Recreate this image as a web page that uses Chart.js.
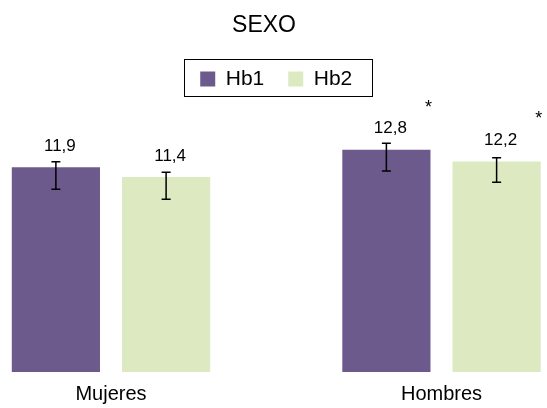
<!DOCTYPE html>
<html>
<head>
<meta charset="utf-8">
<script src="https://cdn.jsdelivr.net/npm/chart.js@4"></script>
<style>
  body { margin: 0; background: #fff; }
</style>
</head>
<body>
<canvas id="hbChart" width="547" height="408"></canvas>
<script>
const categories = ["Mujeres", "Hombres"];
const hb1 = [11.9, 12.8];
const hb2 = [11.4, 12.2];
// error bar extent above / below each value
const hb1Plus = [0.28, 0.33];
const hb1Minus = [1.13, 1.09];
const hb2Plus = [0.24, 0.19];
const hb2Minus = [1.14, 1.07];
const signif = ["", "*"];
const yMin = 1.4;
const yMax = 15.37;

Chart.defaults.color = "#000";
Chart.defaults.font.family = "'Liberation Sans', Arial, sans-serif";

const fmt = v => v.toFixed(1).replace(".", ",");

const barExtras = {
  id: "barExtras",
  afterDatasetsDraw(chart) {
    const ctx = chart.ctx;
    const y = chart.scales.y;
    ctx.save();
    chart.data.datasets.forEach((ds, di) => {
      const meta = chart.getDatasetMeta(di);
      meta.data.forEach((bar, i) => {
        const v = ds.data[i];
        // error bar
        const top = y.getPixelForValue(v + ds.errPlus[i]);
        const bot = y.getPixelForValue(v - ds.errMinus[i]);
        ctx.strokeStyle = "#000";
        ctx.lineWidth = 1.5;
        ctx.beginPath();
        ctx.moveTo(bar.x, top);
        ctx.lineTo(bar.x, bot);
        ctx.moveTo(bar.x - 4.5, top);
        ctx.lineTo(bar.x + 4.5, top);
        ctx.moveTo(bar.x - 4.5, bot);
        ctx.lineTo(bar.x + 4.5, bot);
        ctx.stroke();
        // value label
        ctx.fillStyle = "#000";
        ctx.textAlign = "center";
        ctx.textBaseline = "middle";
        ctx.font = "17px 'Liberation Sans', Arial, sans-serif";
        ctx.fillText(fmt(v), bar.x + 4, bar.y - 21);
        if (signif[i]) {
          ctx.font = "18px 'Liberation Sans', Arial, sans-serif";
          ctx.fillText(signif[i], bar.x + bar.width / 2 - 2, bar.y - 42);
        }
      });
    });
    ctx.restore();
  },
  afterDraw(chart) {
    // frame around the legend
    const lg = chart.legend;
    if (!lg || !lg.legendHitBoxes.length) return;
    const boxes = lg.legendHitBoxes;
    const left = Math.min(...boxes.map(b => b.left));
    const right = Math.max(...boxes.map(b => b.left + b.width));
    const mid = boxes[0].top + boxes[0].height / 2;
    const ctx = chart.ctx;
    ctx.save();
    ctx.strokeStyle = "#000";
    ctx.lineWidth = 1;
    ctx.strokeRect(Math.round(left - 16) + 0.5, Math.round(mid - 20) + 0.5, Math.round(right - left + 36), 37);
    ctx.restore();
  }
};

new Chart(document.getElementById("hbChart"), {
  type: "bar",
  data: {
    labels: categories,
    datasets: [
      { label: "Hb1", data: hb1, errPlus: hb1Plus, errMinus: hb1Minus, backgroundColor: "#6c5a8d", borderWidth: 0, base: yMin, clip: false },
      { label: "Hb2", data: hb2, errPlus: hb2Plus, errMinus: hb2Minus, backgroundColor: "#dce9c1", borderWidth: 0, base: yMin, clip: false }
    ]
  },
  options: {
    responsive: false,
    animation: false,
    categoryPercentage: 0.667,
    barPercentage: 0.8,
    layout: { padding: { left: 0, right: 19, top: 0, bottom: 0 } },
    plugins: {
      title: {
        display: true,
        text: "SEXO",
        font: { size: 23, weight: "normal" },
        padding: { top: 12, bottom: 5 }
      },
      legend: {
        fullSize: false,
        labels: { boxWidth: 15, boxHeight: 15, padding: 24, font: { size: 21 } }
      },
      tooltip: { enabled: false }
    },
    scales: {
      x: {
        offset: false,
        grid: { display: false, drawTicks: false },
        border: { display: false },
        ticks: { font: { size: 20 }, padding: 10 },
        afterFit: s => { s.height = 36; }
      },
      y: {
        min: yMin,
        max: yMax,
        grid: { display: false, drawTicks: false },
        border: { display: false },
        ticks: { display: false },
        afterFit: s => { s.width = 111; }
      },
      yRight: {
        position: "right",
        grid: { display: false, drawTicks: false },
        border: { display: false },
        ticks: { display: false },
        afterFit: s => { s.width = 86.5; }
      }
    }
  },
  plugins: [barExtras]
});
</script>
</body>
</html>
